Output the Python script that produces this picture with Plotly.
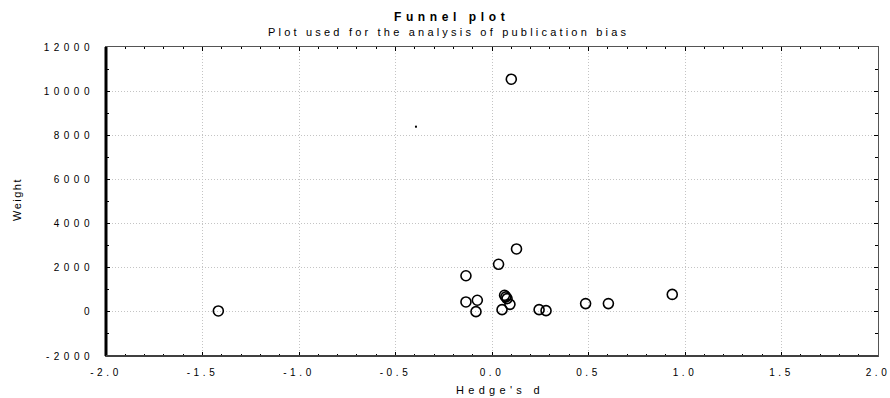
import plotly.graph_objects as go

# Data
hedges_d = [-1.418, 0.100, 0.127, 0.034, -0.135, -0.135, -0.076, -0.083,
            0.065, 0.072, 0.078, 0.093, 0.052, 0.244, 0.280, 0.485, 0.603, 0.934]
weight = [40, 10540, 2850, 2155, 1635, 450, 525, 10,
          750, 680, 600, 340, 100, 100, 55, 375, 375, 790]

dot_x = [-0.394]
dot_y = [8390]

x_ticks = [-2.0, -1.5, -1.0, -0.5, 0.0, 0.5, 1.0, 1.5, 2.0]
x_tick_labels = ["-2.0", "-1.5", "-1.0", "-0.5", "0.0", "0.5", "1.0", "1.5", "2.0"]
y_ticks = [-2000, 0, 2000, 4000, 6000, 8000, 10000, 12000]
y_tick_labels = ["-2000", "0", "2000", "4000", "6000", "8000", "10000", "12000"]

font_family = "Arial, Liberation Sans, sans-serif"


def spaced(s, px):
    return '<span style="letter-spacing:%spx">%s</span>' % (px, s)


W, H = 890, 398
L, T = 106, 47
R = W - 878
B = H - 356
pw, ph = W - L - R, H - T - B


def px_x(page_x):
    return (page_x - L) / pw


def px_y(page_y):
    return (H - B - page_y) / ph


fig = go.Figure()
fig.add_trace(go.Scatter(
    x=hedges_d, y=weight, mode="markers",
    marker=dict(symbol="circle-open", size=10, color="black",
                line=dict(width=1.6, color="black")),
    showlegend=False, cliponaxis=False,
))
fig.add_trace(go.Scatter(
    x=dot_x, y=dot_y, mode="markers",
    marker=dict(symbol="square", size=2, color="black"),
    showlegend=False,
))

fig.update_layout(
    width=W, height=H,
    margin=dict(l=L, r=R, t=T, b=B, autoexpand=False),
    paper_bgcolor="white", plot_bgcolor="white",
    font=dict(family=font_family, size=10, color="black"),
)
fig.add_annotation(text=spaced("<b>Funnel plot</b>", 4.6), xref="paper", yref="paper",
                   x=px_x(451), y=px_y(17), showarrow=False,
                   font=dict(size=12, family=font_family), yanchor="middle")
fig.add_annotation(text=spaced("Plot used for the analysis of publication bias", 3.2),
                   xref="paper", yref="paper",
                   x=px_x(448), y=px_y(32.5), showarrow=False,
                   font=dict(size=11, family=font_family), yanchor="middle")
fig.add_annotation(text=spaced("Hedge's d", 4.3),
                   xref="paper", yref="paper",
                   x=px_x(500), y=px_y(390), showarrow=False,
                   font=dict(size=11, family=font_family), yanchor="middle")
fig.add_annotation(text=spaced("Weight", 1.5),
                   xref="paper", yref="paper", textangle=-90,
                   x=px_x(17), y=px_y(200), showarrow=False,
                   font=dict(size=11, family=font_family), xanchor="center", yanchor="middle")

fig.update_xaxes(
    range=[-2.0, 2.0], tickvals=x_ticks, ticktext=[spaced(t, 3.6) for t in x_tick_labels],
    showgrid=True, gridcolor="#c4c4c4", griddash="1px,2px", gridwidth=1,
    zeroline=False, showline=True, linecolor="#555555", linewidth=1, mirror="ticks",
    ticks="inside", ticklen=4, tickcolor="black",
    minor=dict(dtick=0.1, ticks="inside", ticklen=2, tickcolor="black", showgrid=False),
    automargin=False, tickfont=dict(size=10), ticklabelstandoff=7,
    ticklabeloverflow="allow",
)
fig.update_yaxes(
    range=[-2000, 12000], tickvals=y_ticks, ticktext=[spaced(t, 4.5) for t in y_tick_labels],
    showgrid=True, gridcolor="#c4c4c4", griddash="1px,2px", gridwidth=1,
    zeroline=False, showline=True, linecolor="#555555", linewidth=1, mirror="ticks",
    ticks="inside", ticklen=4, tickcolor="black",
    minor=dict(dtick=1000, ticks="inside", ticklen=3, tickcolor="black", showgrid=False),
    automargin=False, tickfont=dict(size=10), ticklabelstandoff=9,
    ticklabeloverflow="allow",
)

# thicker left and bottom frame lines
fig.add_shape(type="line", xref="paper", yref="paper", x0=0, x1=0, y0=0, y1=1,
              line=dict(color="black", width=3))
fig.add_shape(type="line", xref="paper", yref="paper", x0=0, x1=1, y0=0, y1=0,
              line=dict(color="#404040", width=2))

fig.write_html(
    "out.html",
    config={"displayModeBar": False},
    post_script="document.body.style.margin='0';document.body.style.overflow='hidden';",
)
